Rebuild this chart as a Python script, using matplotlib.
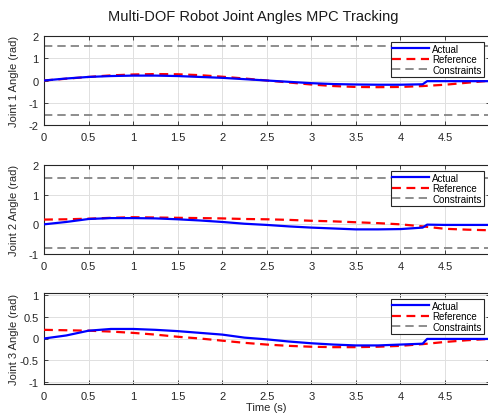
import matplotlib
matplotlib.use("Agg")
import matplotlib.pyplot as plt
import numpy as np

plt.rcParams["font.family"] = ["Liberation Sans", "DejaVu Sans"]

# time grid for the reference trajectories
t_ref = [0, 0.25, 0.5, 0.75, 1, 1.25, 1.5, 1.75, 2, 2.25, 2.5,
         2.75, 3, 3.25, 3.5, 3.75, 4, 4.25, 4.5, 4.75, 5]
# time grid for the tracked trajectories (step at ~4.27 s)
t_act = [0, 0.25, 0.5, 0.75, 1, 1.25, 1.5, 1.75, 2, 2.25, 2.5,
         2.75, 3, 3.25, 3.5, 3.75, 4, 4.25, 4.3, 4.5, 4.75, 5]

ref1 = [0, 0.08, 0.16, 0.23, 0.27, 0.29, 0.28, 0.24, 0.17, 0.09, 0.0,
        -0.09, -0.18, -0.25, -0.29, -0.30, -0.29, -0.25, -0.19, -0.10, -0.01]
act1 = [0, 0.09, 0.16, 0.20, 0.22, 0.22, 0.20, 0.16, 0.12, 0.06, 0.0,
        -0.06, -0.12, -0.16, -0.18, -0.19, -0.19, -0.17, -0.03, -0.03, -0.03, -0.03]

ref2 = [0.16, 0.17, 0.19, 0.22, 0.24, 0.23, 0.22, 0.21, 0.20, 0.18, 0.17,
        0.15, 0.12, 0.10, 0.07, 0.04, 0.0, -0.07, -0.15, -0.18, -0.20]
act2 = [0, 0.08, 0.18, 0.21, 0.21, 0.20, 0.17, 0.13, 0.08, 0.02, -0.02,
        -0.07, -0.11, -0.14, -0.17, -0.17, -0.16, -0.11, -0.01, -0.02, -0.02, -0.02]

ref3 = [0.20, 0.19, 0.18, 0.16, 0.13, 0.09, 0.04, 0.0, -0.05, -0.10, -0.14,
        -0.17, -0.19, -0.20, -0.20, -0.19, -0.17, -0.13, -0.08, -0.04, -0.01]
act3 = [0, 0.07, 0.18, 0.22, 0.22, 0.20, 0.17, 0.13, 0.09, 0.02, -0.02,
        -0.07, -0.11, -0.14, -0.16, -0.16, -0.14, -0.12, -0.01, -0.01, -0.01, -0.01]

refs = [ref1, ref2, ref3]
acts = [act1, act2, act3]
limits = [(-np.pi / 2, np.pi / 2), (-np.pi / 4, np.pi / 2), (-np.pi, np.pi)]
ylims = [(-2, 2), (-1, 2), (-1.05, 1.05)]
yticks = [[-2, -1, 0, 1, 2], [-1, 0, 1, 2], [-1, -0.5, 0, 0.5, 1]]
ylabels = ["Joint 1 Angle (rad)", "Joint 2 Angle (rad)", "Joint 3 Angle (rad)"]
xticks = [0, 0.5, 1, 1.5, 2, 2.5, 3, 3.5, 4, 4.5]

W, H = 488, 414
fig = plt.figure(figsize=(W / 100, H / 100), dpi=100)

# pixel boxes (top, bottom) for the three stacked axes
boxes = [(37, 126), (166, 255), (294, 385)]
left, right = 44, 489.5

edge = "#262626"
for i, (top, bot) in enumerate(boxes):
    ax = fig.add_axes([left / W, (H - bot) / H, (right - left) / W, (bot - top) / H])
    ax.plot(t_act, acts[i], color="#0000ff", lw=1.6, label="Actual", zorder=4)
    ax.plot(t_ref, refs[i], color="#ff0000", lw=1.6, ls=(0, (4, 2.5)),
            label="Reference", zorder=3)
    lo, hi = limits[i]
    ax.axhline(hi, color="#7a7a7a", lw=1.2, ls=(0, (5, 3)), label="Constraints", zorder=2)
    ax.axhline(lo, color="#7a7a7a", lw=1.2, ls=(0, (5, 3)), zorder=2)

    ax.set_xlim(0, 5)
    ax.set_ylim(*ylims[i])
    ax.set_xticks(xticks)
    ax.set_xticklabels([f"{v:g}" for v in xticks])
    ax.set_yticks(yticks[i])
    ax.set_yticklabels([f"{v:g}" for v in yticks[i]])
    ax.grid(True, color="#e0e0e0", lw=0.7)
    ax.set_axisbelow(True)
    ax.tick_params(direction="in", length=3, width=0.6, labelsize=8,
                   colors=edge, top=True, right=True)
    ax.tick_params(axis="x", pad=5)
    ax.tick_params(axis="y", pad=4)
    for s in ax.spines.values():
        s.set_color(edge)
        s.set_linewidth(0.8)
    ax.set_ylabel(ylabels[i], fontsize=8, color=edge)
    ax.yaxis.set_label_coords(-25 / (right - left), 0.5)

    leg = ax.legend(loc="upper right", fontsize=7, handlelength=3.8,
                    borderpad=0.2, labelspacing=0.05, handletextpad=0.3,
                    borderaxespad=0.6, fancybox=False, framealpha=1)
    leg.get_frame().set_edgecolor(edge)
    leg.get_frame().set_linewidth(0.8)
    if i == 2:
        ax.set_xlabel("Time (s)", fontsize=8, color=edge, labelpad=1)

fig.text(253.5 / W, 1 - 17 / H, "Multi-DOF Robot Joint Angles MPC Tracking",
         ha="center", va="center", fontsize=10.5, color="#1a1a1a")

fig.savefig("out.png", dpi=100)
